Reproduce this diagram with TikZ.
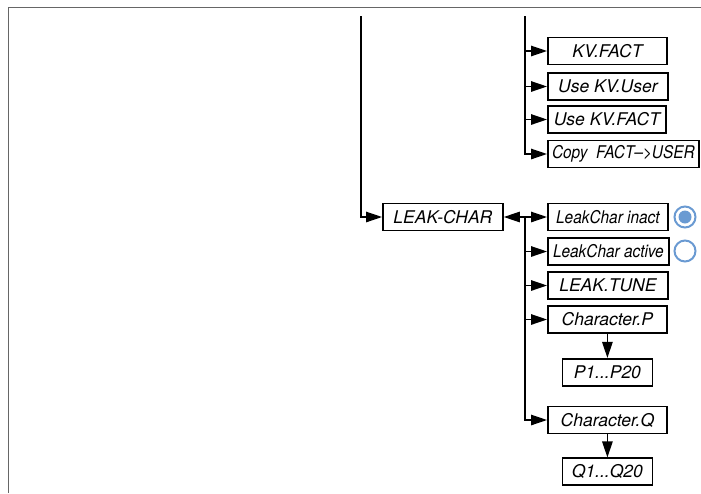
\documentclass[tikz,border=0pt]{standalone}
\usepackage{fontspec}
\newfontfamily\boxfont{TeX Gyre Heros}
\newfontfamily\narrowfont[FakeStretch=0.88]{TeX Gyre Heros}
\usetikzlibrary{arrows.meta,positioning}
\definecolor{framegray}{HTML}{666666}
\definecolor{radioblue}{HTML}{6A9AD2}

\begin{document}
\begin{tikzpicture}[x=1pt, y=-1pt,
  item/.style={draw, rectangle, line width=1.8pt, minimum height=27pt, inner sep=0pt, anchor=west, font=\boxfont\itshape\fontsize{17.5}{20}\selectfont},
  tight/.style={font=\narrowfont\itshape\fontsize{17.5}{20}\selectfont},
  flow/.style={-{Triangle[length=16pt,width=10.5pt]}, line width=1.3pt},
  wire/.style={line width=1.3pt, line cap=rect},
  radio/.style={circle, draw=radioblue, line width=2pt, minimum size=21pt, inner sep=0pt}
]
\useasboundingbox (0,0) rectangle (701,493);
\draw[framegray, line width=1.2pt] (8.5,493) -- (8.5,7.5) -- (701,7.5);

% upper branch
\node[item, minimum width=119pt] (kvfact) at (547,51) {KV.FACT};
\node[item, minimum width=120pt] (usekvuser) at (547,86.5) {Use KV.User};
\node[item, minimum width=118pt] (usekvfact) at (547,119.5) {Use KV.FACT};
\node[item, tight, minimum width=151pt] (copyfact) at (547,154) {Copy\ \ FACT–>USER};

% leak characteristic
\node[item, minimum width=120pt] (leakchar) at (382,217) {LEAK-CHAR};
\node[item, tight, minimum width=120pt] (inact) at (547,217) {LeakChar inact};
\node[item, tight, minimum width=121pt] (active) at (547,251.5) {LeakChar active};
\node[item, minimum width=120pt] (tune) at (547,285.5) {LEAK.TUNE};
\node[item, minimum width=119pt] (charp) at (547,319.5) {Character.P};
\node[item, minimum width=90pt, below=24pt of charp] (prange) {P1...P20};
\node[item, minimum width=119pt] (charq) at (547,420) {Character.Q};
\node[item, minimum width=90pt, below=23pt of charq] (qrange) {Q1...Q20};

\node[radio] (radioon) at (685,217) {};
\node[circle, fill=radioblue, minimum size=13pt, inner sep=0pt] at (radioon) {};
\node[radio] (radiooff) at (685,251) {};

\coordinate (trunktop) at (361,16);
\coordinate (kvtop) at (525,17);
\coordinate (split) at (525,217);

\draw[flow] (trunktop) |- (leakchar.west);
\draw[wire] (kvtop) -- (kvtop |- copyfact.west);
\foreach \n in {kvfact,usekvuser,usekvfact,copyfact}
  \draw[flow] (kvtop |- \n.west) -- (\n.west);
\draw[flow] (split) -- (leakchar.east);
\draw[wire] (split) -- (split |- charq.west);
\foreach \n in {inact,active,tune,charp,charq}
  \draw[flow] (split |- \n.west) -- (\n.west);
\draw[flow] (prange.north |- charp.south) -- (prange.north);
\draw[flow] (qrange.north |- charq.south) -- (qrange.north);
\end{tikzpicture}
\end{document}
